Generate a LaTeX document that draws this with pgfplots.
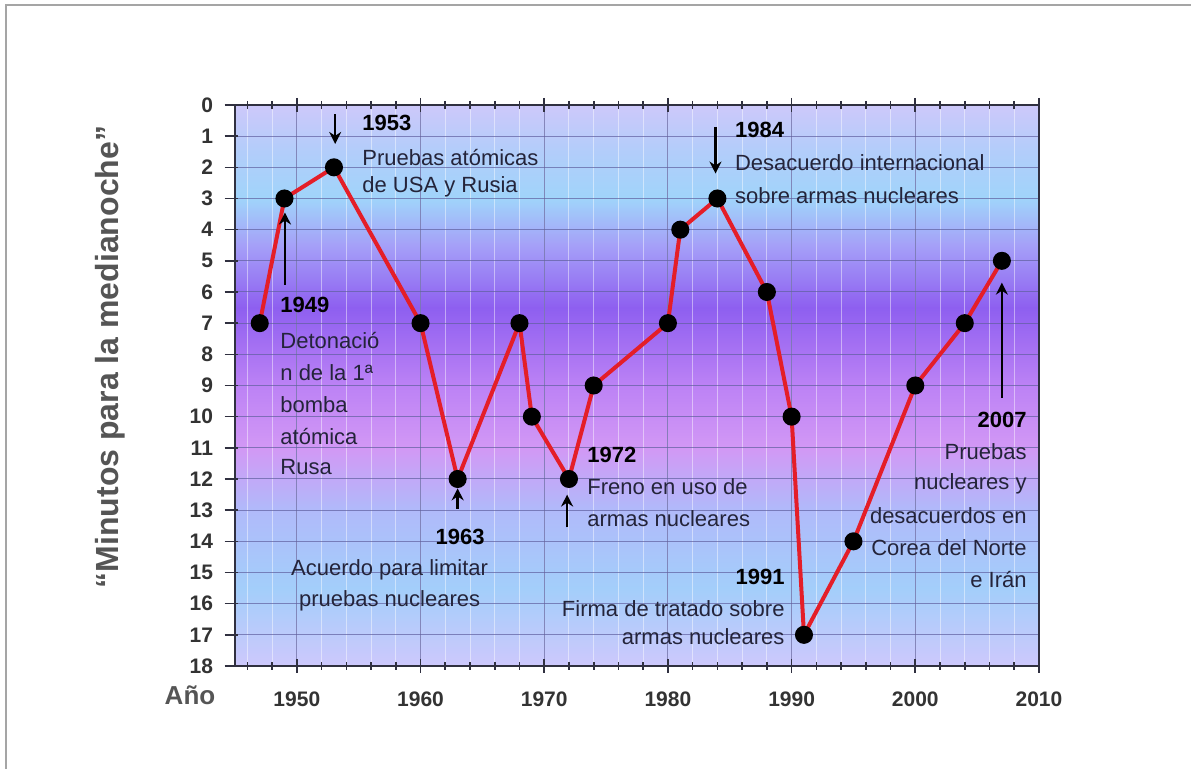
\documentclass[border=0pt]{standalone}
\usepackage{fontspec}
\setmainfont{Liberation Sans}
\usepackage{pgfplots}
\pgfplotsset{compat=1.18}
\usetikzlibrary{arrows.meta}

\definecolor{linered}{RGB}{228,30,40}
\definecolor{anntext}{RGB}{36,36,58}
\definecolor{axisdark}{RGB}{48,48,64}
\definecolor{labelgray}{RGB}{85,85,85}
\definecolor{framegray}{RGB}{165,165,165}
% background band colours
\definecolor{bgA}{RGB}{205,200,250}
\definecolor{bgB}{RGB}{178,205,250}
\definecolor{bgC}{RGB}{160,212,250}
\definecolor{bgD}{RGB}{165,160,248}
\definecolor{bgE}{RGB}{142,95,240}
\definecolor{bgF}{RGB}{188,130,245}
\definecolor{bgG}{RGB}{210,152,245}
\definecolor{bgH}{RGB}{176,186,250}
\definecolor{bgI}{RGB}{163,206,250}
\definecolor{bgJ}{RGB}{205,200,252}

\pgfplotstableread{
year minutes
1947 7
1949 3
1953 2
1960 7
1963 12
1968 7
1969 10
1972 12
1974 9
1980 7
1981 4
1984 3
1988 6
1990 10
1991 17
1995 14
2000 9
2004 7
2007 5
}\clockdata

\tikzset{
  ann/.style={font=\fontsize{11}{13}\selectfont, text=anntext, inner sep=0pt},
  yr/.style={font=\fontsize{11}{13}\selectfont\bfseries, text=black, inner sep=0pt},
  arr/.style={black, line width=1.3pt, -{Stealth[length=6pt,width=6pt]}},
}

\begin{document}
\begin{tikzpicture}
\begin{axis}[
  set layers,
  at={(117.5pt,51.5pt)}, anchor=south west,
  scale only axis, width=402pt, height=280.5pt,
  xmin=1945, xmax=2010, ymin=0, ymax=18,
  y dir=reverse,
  clip=false,
  xtick={1950,1960,...,2010},
  minor xtick={1946,1948,...,2008},
  ytick={0,1,...,18},
  xtick pos=both, ytick pos=left,
  tick align=center,
  major tick length=7pt, minor tick length=4pt,
  y tick style={xshift=-1.75pt},
  every tick/.style={axisdark, line width=0.8pt},
  axis line style={axisdark, line width=1pt},
  grid=both,
  major grid style={draw=gray!75!blue, line width=0.5pt, opacity=0.7},
  minor grid style={draw=white, line width=0.5pt, opacity=0.45},
  /pgf/number format/assume math mode=true,
  /pgf/number format/set thousands separator={},
  tick label style={font=\fontsize{10.5}{12}\selectfont\bfseries, text=black!80},
  xticklabel style={yshift=-6pt},
  yticklabel style={xshift=-4pt},
]

\begin{pgfonlayer}{axis background}
  \fill[top color=bgA, bottom color=bgB] (axis cs:1945,0) rectangle (axis cs:2010,1.5);
  \fill[top color=bgB, bottom color=bgC] (axis cs:1945,1.5) rectangle (axis cs:2010,3);
  \fill[top color=bgC, bottom color=bgD] (axis cs:1945,3) rectangle (axis cs:2010,4.5);
  \fill[top color=bgD, bottom color=bgE] (axis cs:1945,4.5) rectangle (axis cs:2010,6.5);
  \fill[top color=bgE, bottom color=bgF] (axis cs:1945,6.5) rectangle (axis cs:2010,9);
  \fill[top color=bgF, bottom color=bgG] (axis cs:1945,9) rectangle (axis cs:2010,11);
  \fill[top color=bgG, bottom color=bgH] (axis cs:1945,11) rectangle (axis cs:2010,13);
  \fill[top color=bgH, bottom color=bgI] (axis cs:1945,13) rectangle (axis cs:2010,15.5);
  \fill[top color=bgI, bottom color=bgJ] (axis cs:1945,15.5) rectangle (axis cs:2010,18);
\end{pgfonlayer}

\addplot[linered, line width=2pt, mark=*, mark size=3.5pt,
  mark options={draw=black, fill=black}] table[x=year, y=minutes] {\clockdata};

% 1949
\draw[arr] (axis cs:1949.04,5.77) -- (axis cs:1949.04,3.45);
\node[yr, anchor=west] at (axis cs:1948.64,6.42) {1949};
\node[ann, anchor=west] at (axis cs:1948.64,7.57) {Detonació};
\node[ann, anchor=west] at (axis cs:1948.64,8.60) {n de la 1ª};
\node[ann, anchor=west] at (axis cs:1948.64,9.62) {bomba};
\node[ann, anchor=west] at (axis cs:1948.64,10.65) {atómica};
\node[ann, anchor=west] at (axis cs:1948.64,11.61) {Rusa};

% 1953
\draw[arr] (axis cs:1953.1,0.30) -- (axis cs:1953.1,1.25);
\node[yr, anchor=west] at (axis cs:1955.27,0.58) {1953};
\node[ann, anchor=west] at (axis cs:1955.27,1.70) {Pruebas atómicas};
\node[ann, anchor=west] at (axis cs:1955.27,2.63) {de USA y Rusia};

% 1963
\draw[arr] (axis cs:1963,12.95) -- (axis cs:1963,12.30);
\node[yr] at (axis cs:1963.2,13.86) {1963};
\node[ann] at (axis cs:1957.5,14.92) {Acuerdo para limitar};
\node[ann] at (axis cs:1957.5,15.91) {pruebas nucleares};

% 1972
\draw[arr] (axis cs:1971.85,13.55) -- (axis cs:1971.85,12.50);
\node[yr, anchor=west] at (axis cs:1973.46,11.23) {1972};
\node[ann, anchor=west] at (axis cs:1973.46,12.26) {Freno en uso de};
\node[ann, anchor=west] at (axis cs:1973.46,13.28) {armas nucleares};

% 1984
\draw[arr] (axis cs:1983.85,0.70) -- (axis cs:1983.85,2.20);
\node[yr, anchor=west] at (axis cs:1985.4,0.80) {1984};
\node[ann, anchor=west] at (axis cs:1985.4,1.86) {Desacuerdo internacional};
\node[ann, anchor=west] at (axis cs:1985.4,2.92) {sobre armas nucleares};

% 1991
\node[yr, anchor=east] at (axis cs:1989.46,15.14) {1991};
\node[ann, anchor=east] at (axis cs:1989.46,16.17) {Firma de tratado sobre};
\node[ann, anchor=east] at (axis cs:1989.46,17.07) {armas nucleares};

% 2007
\draw[arr] (axis cs:2007,9.40) -- (axis cs:2007,5.70);
\node[yr, anchor=east] at (axis cs:2009.03,10.11) {2007};
\node[ann, anchor=east] at (axis cs:2009.03,11.13) {Pruebas};
\node[ann, anchor=east] at (axis cs:2009.03,12.16) {nucleares y};
\node[ann, anchor=east] at (axis cs:2009.03,13.19) {desacuerdos en};
\node[ann, anchor=east] at (axis cs:2009.03,14.21) {Corea del Norte};
\node[ann, anchor=east] at (axis cs:2009.03,15.24) {e Irán};
\end{axis}

\node[rotate=90, text=labelgray, font=\fontsize{16}{19}\selectfont\bfseries] at (55pt,206pt) {“Minutos para la medianoche”};
\node[text=labelgray, font=\fontsize{13}{15}\selectfont\bfseries] at (95pt,37pt) {Año};
\draw[framegray, line width=1pt] (2.9pt,0) -- (2.9pt,381.9pt) -- (595.5pt,381.9pt);

\pgfresetboundingbox
\path (0,0) rectangle (595.5pt,384.5pt);
\end{tikzpicture}
\end{document}
